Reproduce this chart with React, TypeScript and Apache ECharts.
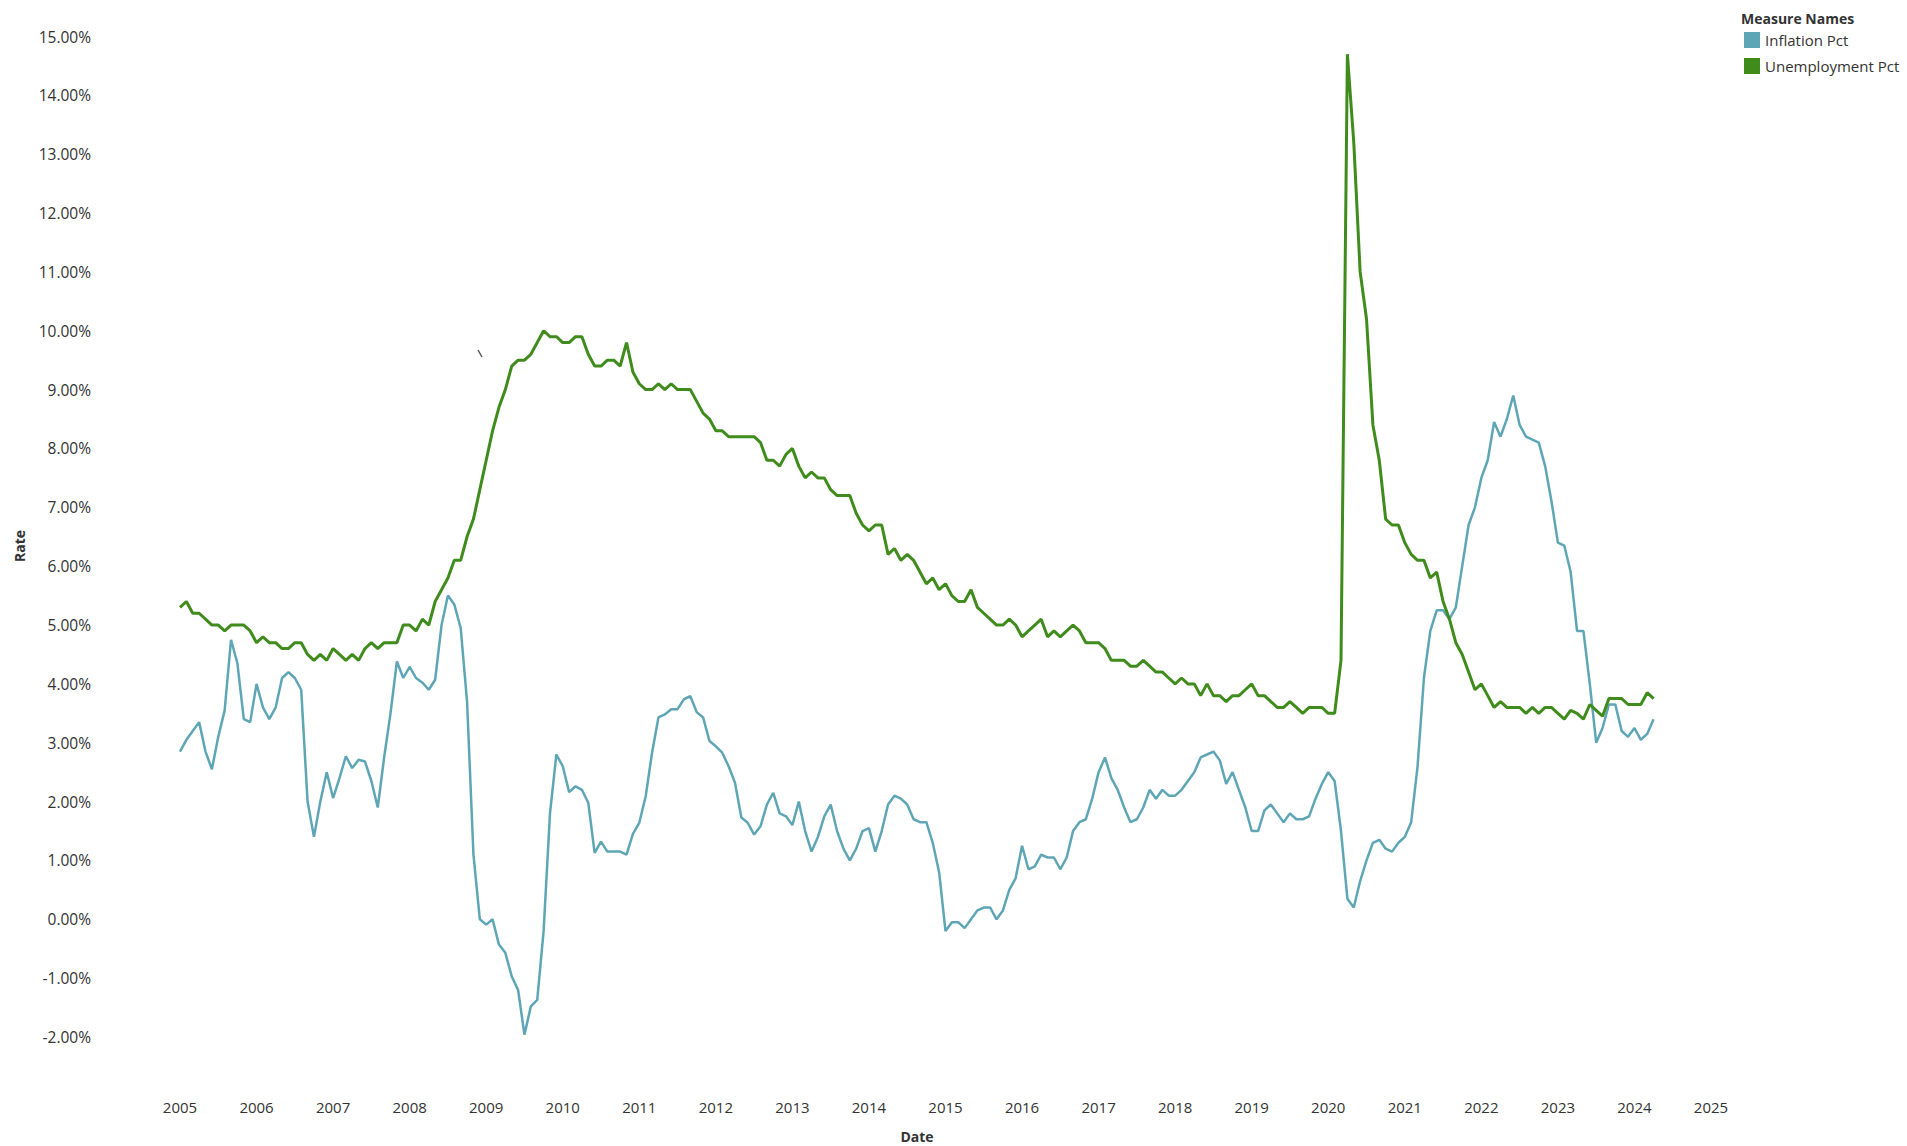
import React, { useEffect, useRef } from "react";
import * as echarts from "echarts";

// Monthly observations, January 2005 through April 2024
const START_YEAR = 2005;

const inflationPct = [
  // 2005
  2.85, 3.05, 3.2, 3.35, 2.85, 2.55, 3.1, 3.55, 4.75, 4.35, 3.4, 3.35,
  // 2006
  4.0, 3.6, 3.4, 3.6, 4.1, 4.2, 4.1, 3.9, 2.0, 1.4, 2.0, 2.5,
  // 2007
  2.06, 2.4, 2.77, 2.57, 2.71, 2.68, 2.35, 1.9, 2.75, 3.5, 4.38, 4.1,
  // 2008
  4.29, 4.1, 4.02, 3.9, 4.07, 5.0, 5.5, 5.35, 4.95, 3.7, 1.1, 0.0,
  // 2009
  -0.09, 0.0, -0.43, -0.57, -0.97, -1.2, -1.96, -1.48, -1.37, -0.2, 1.8, 2.8,
  // 2010
  2.6, 2.16, 2.26, 2.2, 1.98, 1.13, 1.32, 1.15, 1.15, 1.15, 1.1, 1.45,
  // 2011
  1.64, 2.09, 2.83, 3.43, 3.48, 3.57, 3.57, 3.74, 3.79, 3.52, 3.43, 3.03,
  // 2012
  2.94, 2.83, 2.6, 2.32, 1.73, 1.64, 1.44, 1.58, 1.95, 2.15, 1.8, 1.75,
  // 2013
  1.6, 2.0, 1.5, 1.15, 1.4, 1.75, 1.95, 1.5, 1.2, 1.0, 1.2, 1.5,
  // 2014
  1.55, 1.15, 1.5, 1.95, 2.1, 2.05, 1.95, 1.7, 1.65, 1.65, 1.3, 0.8,
  // 2015
  -0.2, -0.05, -0.05, -0.15, 0.0, 0.15, 0.2, 0.2, 0.0, 0.15, 0.5, 0.7,
  // 2016
  1.25, 0.85, 0.9, 1.1, 1.05, 1.05, 0.85, 1.05, 1.5, 1.65, 1.7, 2.05,
  // 2017
  2.5, 2.75, 2.4, 2.2, 1.9, 1.65, 1.7, 1.9, 2.2, 2.05, 2.2, 2.1,
  // 2018
  2.1, 2.2, 2.35, 2.5, 2.75, 2.8, 2.85, 2.7, 2.3, 2.5, 2.2, 1.9,
  // 2019
  1.5, 1.5, 1.85, 1.95, 1.8, 1.65, 1.8, 1.7, 1.7, 1.75, 2.05, 2.3,
  // 2020
  2.5, 2.35, 1.5, 0.35, 0.2, 0.65, 1.0, 1.3, 1.35, 1.2, 1.15, 1.3,
  // 2021
  1.4, 1.65, 2.6, 4.1, 4.9, 5.25, 5.25, 5.1, 5.3, 6.0, 6.7, 7.0,
  // 2022
  7.5, 7.8, 8.45, 8.2, 8.5, 8.9, 8.4, 8.2, 8.15, 8.1, 7.7, 7.1,
  // 2023
  6.4, 6.35, 5.9, 4.9, 4.9, 4.0, 3.0, 3.25, 3.65, 3.65, 3.2, 3.1,
  // 2024
  3.25, 3.05, 3.15, 3.4,
];

const unemploymentPct = [
  // 2005
  5.3, 5.4, 5.2, 5.2, 5.1, 5.0, 5.0, 4.9, 5.0, 5.0, 5.0, 4.9,
  // 2006
  4.7, 4.8, 4.7, 4.7, 4.6, 4.6, 4.7, 4.7, 4.5, 4.4, 4.5, 4.4,
  // 2007
  4.6, 4.5, 4.4, 4.5, 4.4, 4.6, 4.7, 4.6, 4.7, 4.7, 4.7, 5.0,
  // 2008
  5.0, 4.9, 5.1, 5.0, 5.4, 5.6, 5.8, 6.1, 6.1, 6.5, 6.8, 7.3,
  // 2009
  7.8, 8.3, 8.7, 9.0, 9.4, 9.5, 9.5, 9.6, 9.8, 10.0, 9.9, 9.9,
  // 2010
  9.8, 9.8, 9.9, 9.9, 9.6, 9.4, 9.4, 9.5, 9.5, 9.4, 9.8, 9.3,
  // 2011
  9.1, 9.0, 9.0, 9.1, 9.0, 9.1, 9.0, 9.0, 9.0, 8.8, 8.6, 8.5,
  // 2012
  8.3, 8.3, 8.2, 8.2, 8.2, 8.2, 8.2, 8.1, 7.8, 7.8, 7.7, 7.9,
  // 2013
  8.0, 7.7, 7.5, 7.6, 7.5, 7.5, 7.3, 7.2, 7.2, 7.2, 6.9, 6.7,
  // 2014
  6.6, 6.7, 6.7, 6.2, 6.3, 6.1, 6.2, 6.1, 5.9, 5.7, 5.8, 5.6,
  // 2015
  5.7, 5.5, 5.4, 5.4, 5.6, 5.3, 5.2, 5.1, 5.0, 5.0, 5.1, 5.0,
  // 2016
  4.8, 4.9, 5.0, 5.1, 4.8, 4.9, 4.8, 4.9, 5.0, 4.9, 4.7, 4.7,
  // 2017
  4.7, 4.6, 4.4, 4.4, 4.4, 4.3, 4.3, 4.4, 4.3, 4.2, 4.2, 4.1,
  // 2018
  4.0, 4.1, 4.0, 4.0, 3.8, 4.0, 3.8, 3.8, 3.7, 3.8, 3.8, 3.9,
  // 2019
  4.0, 3.8, 3.8, 3.7, 3.6, 3.6, 3.7, 3.6, 3.5, 3.6, 3.6, 3.6,
  // 2020
  3.5, 3.5, 4.4, 14.7, 13.2, 11.0, 10.2, 8.4, 7.8, 6.8, 6.7, 6.7,
  // 2021
  6.4, 6.2, 6.1, 6.1, 5.8, 5.9, 5.4, 5.1, 4.7, 4.5, 4.2, 3.9,
  // 2022
  4.0, 3.8, 3.6, 3.7, 3.6, 3.6, 3.6, 3.5, 3.6, 3.5, 3.6, 3.6,
  // 2023
  3.5, 3.4, 3.55, 3.5, 3.4, 3.65, 3.55, 3.45, 3.75, 3.75, 3.75, 3.65,
  // 2024
  3.65, 3.65, 3.85, 3.75,
];

const X_MIN_YEAR = 2005;
const X_MAX_YEAR = 2025;
const Y_MIN = -2;
const Y_MAX = 15;

const seriesNames = ["Inflation Pct", "Unemployment Pct"];
const seriesColors = ["#5ea6b6", "#3f8c1c"];

const FONT = "'Open Sans', 'Noto Sans', sans-serif";
const TEXT_COLOR = "#333333";

const toPoints = (values: number[]) =>
  values.map((v, i) => [START_YEAR + i / 12, v]);

export default function App() {
  const ref = useRef<HTMLDivElement>(null);

  useEffect(() => {
    if (!ref.current) return;
    const chart = echarts.init(ref.current, null, { renderer: "svg" });
    chart.setOption({
      animation: false,
      backgroundColor: "#ffffff",
      grid: { left: 180, right: 196, top: 36.5, bottom: 109, containLabel: false },
      xAxis: {
        type: "value",
        min: X_MIN_YEAR,
        max: X_MAX_YEAR,
        interval: 1,
        axisLine: { show: false },
        axisTick: { show: false },
        splitLine: { show: false },
        axisLabel: {
          formatter: (v: number) => String(Math.round(v)),
          margin: 62,
          color: TEXT_COLOR,
          fontSize: 15,
          fontFamily: FONT,
        },
      },
      yAxis: {
        type: "value",
        min: Y_MIN,
        max: Y_MAX,
        interval: 1,
        axisLine: { show: false },
        axisTick: { show: false },
        splitLine: { show: false },
        axisLabel: {
          formatter: (v: number) => v.toFixed(2) + "%",
          margin: 89,
          color: TEXT_COLOR,
          fontSize: 15.5,
          fontFamily: FONT,
        },
      },
      legend: {
        data: seriesNames,
        orient: "vertical",
        left: 1744,
        top: 32,
        padding: 0,
        icon: "rect",
        itemWidth: 16,
        itemHeight: 16,
        itemGap: 10,
        itemStyle: { borderWidth: 0 },
        textStyle: { fontSize: 15, color: TEXT_COLOR, fontFamily: FONT },
      },
      series: [
        {
          name: seriesNames[0],
          type: "line",
          data: toPoints(inflationPct),
          showSymbol: false,
          symbol: "none",
          lineStyle: { color: seriesColors[0], width: 2.5 },
          itemStyle: { color: seriesColors[0] },
          z: 2,
        },
        {
          name: seriesNames[1],
          type: "line",
          data: toPoints(unemploymentPct),
          showSymbol: false,
          symbol: "none",
          lineStyle: { color: seriesColors[1], width: 3 },
          itemStyle: { color: seriesColors[1] },
          z: 3,
        },
      ],
      graphic: [
        {
          type: "text",
          x: 1741,
          y: 18,
          style: {
            text: "Measure Names",
            fontSize: 14,
            fontWeight: "bold",
            fontFamily: FONT,
            fill: TEXT_COLOR,
            textVerticalAlign: "middle",
            verticalAlign: "middle",
          },
        },
        {
          type: "text",
          x: 19,
          y: 546,
          rotation: Math.PI / 2,
          style: {
            text: "Rate",
            fontSize: 14,
            fontWeight: "bold",
            fontFamily: FONT,
            fill: TEXT_COLOR,
            align: "center",
            verticalAlign: "middle",
            textAlign: "center",
            textVerticalAlign: "middle",
          },
        },
        {
          type: "text",
          x: 917,
          y: 1136,
          style: {
            text: "Date",
            fontSize: 14,
            fontWeight: "bold",
            fontFamily: FONT,
            fill: TEXT_COLOR,
            align: "center",
            verticalAlign: "middle",
            textAlign: "center",
            textVerticalAlign: "middle",
          },
        },
        {
          type: "line",
          shape: { x1: 478, y1: 350, x2: 482, y2: 357 },
          style: { stroke: "#555555", lineWidth: 1.5 },
        },
      ],
    });
    return () => chart.dispose();
  }, []);

  return (
    <div
      ref={ref}
      style={{
        position: "absolute",
        left: 0,
        top: 0,
        width: 1907,
        height: 1146,
        background: "#ffffff",
      }}
    />
  );
}
